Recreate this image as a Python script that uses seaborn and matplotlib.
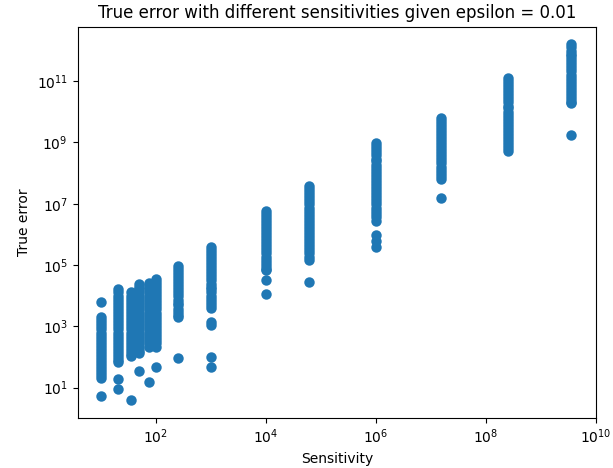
import matplotlib
matplotlib.use("Agg")
import matplotlib.pyplot as plt
import seaborn as sns
import pandas as pd

# Sensitivity values (x positions of each column)
sensitivities = [10, 20, 35, 50, 75, 100, 250, 1000, 1e4, 6e4, 1e6, 1.5e7, 2.5e8, 3.5e9]

# True error values observed for each sensitivity
err_10 = [6300, 2100, 1600, 1300, 1000, 800, 630, 500, 400, 320, 250, 200, 160, 130,
          100, 80, 63, 50, 40, 32, 26, 21, 5.4]
err_20 = [16000, 13000, 10000, 8000, 6300, 5000, 4000, 3200, 2500, 2000, 1600, 1300,
          1000, 800, 630, 500, 400, 320, 250, 200, 160, 130, 100, 80, 70, 19, 9]
err_35 = [13000, 10000, 8000, 6300, 5000, 4000, 3200, 2500, 2000, 1600, 1300, 1000,
          800, 630, 500, 400, 320, 250, 200, 160, 130, 110, 3.9]
err_50 = [24000, 20000, 16000, 13000, 10000, 8000, 6300, 5000, 4000, 3200, 2500, 2000,
          1600, 1300, 1000, 800, 630, 500, 400, 320, 250, 200, 160, 140, 35]
err_75 = [27000, 22000, 18000, 14000, 11000, 9000, 7000, 5600, 4500, 3600, 2800, 2200,
          1800, 1400, 1100, 900, 700, 560, 450, 360, 280, 210, 15]
err_100 = [35000, 28000, 22000, 18000, 14000, 11000, 9000, 7000, 5600, 4500, 3600, 2800,
           2200, 1800, 1400, 1100, 900, 700, 560, 450, 360, 280, 210, 46]
err_250 = [93000, 75000, 60000, 48000, 38000, 30000, 24000, 19000, 15000, 12000, 9500,
           7500, 6000, 4800, 3800, 3000, 2400, 2100, 93]
err_1e3 = [400000, 320000, 250000, 200000, 160000, 130000, 100000, 80000, 63000, 50000,
           40000, 32000, 25000, 20000, 16000, 13000, 10000, 8000, 6300, 5000, 4000,
           1400, 1070, 100, 46]
err_1e4 = [6e6, 4.8e6, 3.8e6, 3e6, 2.4e6, 1.9e6, 1.5e6, 1.2e6, 9.5e5, 7.5e5, 6e5, 4.8e5,
           3.8e5, 3e5, 2.4e5, 1.9e5, 1.5e5, 1.2e5, 9.5e4, 7.5e4, 6.9e4, 3.2e4, 1.1e4]
err_6e4 = [3.7e7, 3e7, 2.4e7, 1.9e7, 1.5e7, 1.2e7, 9.5e6, 7.5e6, 6e6, 4.8e6, 3.8e6, 3e6,
           2.4e6, 1.9e6, 1.5e6, 1.2e6, 9.5e5, 7.5e5, 6e5, 4.8e5, 3.8e5, 3e5, 2.4e5,
           1.9e5, 1.5e5, 2.8e4]
err_1e6 = [9.5e8, 7.5e8, 6e8, 4.8e8, 3.8e8, 3e8, 2.4e8, 1.9e8, 1.5e8, 1.2e8, 9.5e7,
           7.5e7, 6e7, 4.8e7, 3.8e7, 3e7, 2.4e7, 1.9e7, 1.5e7, 1.2e7, 9.5e6, 7.5e6, 6e6,
           4.8e6, 3.8e6, 2.7e6, 9.8e5, 5.9e5, 3.9e5]
err_1_5e7 = [6.5e9, 5.2e9, 4.1e9, 3.3e9, 2.6e9, 2.1e9, 1.6e9, 1.3e9, 1e9, 8e8, 6.5e8,
             5.2e8, 4.1e8, 3.3e8, 2.6e8, 2.1e8, 1.6e8, 1.3e8, 1e8, 8e7, 6.3e7, 1.6e7]
err_2_5e8 = [1.3e11, 1e11, 8e10, 6.5e10, 5.2e10, 4.1e10, 3.3e10, 2.6e10, 2.1e10, 1.6e10,
             1.3e10, 1e10, 8e9, 6.5e9, 5.2e9, 4.1e9, 3.3e9, 2.6e9, 2.1e9, 1.6e9, 1.3e9,
             1e9, 8e8, 6.5e8, 5.4e8]
err_3_5e9 = [1.6e12, 1.3e12, 1e12, 8e11, 6.5e11, 5.2e11, 4.1e11, 3.3e11, 2.6e11, 2.1e11,
             1.6e11, 1.3e11, 1e11, 8e10, 6.5e10, 5.2e10, 4.1e10, 3.3e10, 2.6e10, 2.1e10,
             1.9e10, 1.8e9]

errors = [err_10, err_20, err_35, err_50, err_75, err_100, err_250, err_1e3, err_1e4,
          err_6e4, err_1e6, err_1_5e7, err_2_5e8, err_3_5e9]

x_ticks = [1e2, 1e4, 1e6, 1e8, 1e10]
y_ticks = [1e1, 1e3, 1e5, 1e7, 1e9, 1e11]

rows = []
for s, errs in zip(sensitivities, errors):
    for e in errs:
        rows.append({"Sensitivity": s, "True error": e})
df = pd.DataFrame(rows)

fig = plt.figure(figsize=(6.13, 4.68), dpi=100)
ax = fig.add_axes([77.5 / 613, 1 - 418 / 468, (596 - 77.5) / 613, (418 - 26.5) / 468])

sns.scatterplot(data=df, x="Sensitivity", y="True error", ax=ax,
                color="#1f77b4", s=36, edgecolor="#1f77b4", linewidth=1.5)

ax.set_xscale("log")
ax.set_yscale("log")
ax.set_xticks(x_ticks)
ax.set_yticks(y_ticks)
ax.minorticks_off()
ax.set_xlabel("Sensitivity", fontsize=10)
ax.set_ylabel("True error", fontsize=10)
ax.set_title("True error with different sensitivities given epsilon = 0.01", fontsize=12)

fig.savefig("out.png", dpi=100)
